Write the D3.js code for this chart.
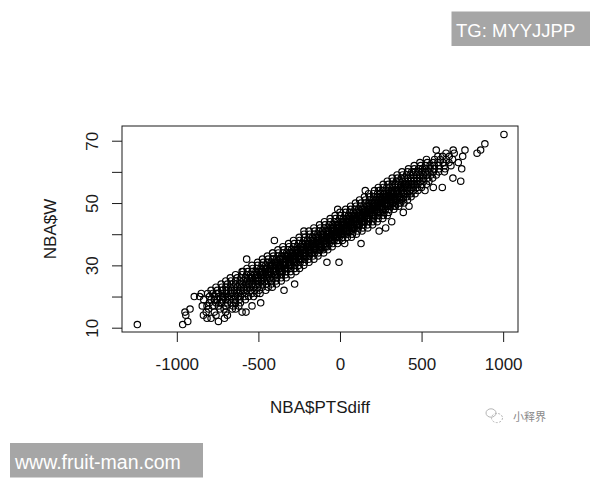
<!DOCTYPE html>
<html>
<head>
<meta charset="utf-8">
<script src="https://cdn.jsdelivr.net/npm/d3@7"></script>
<style>
  html, body { margin: 0; padding: 0; background: #fff; }
  svg { display: block; }
</style>
</head>
<body>
<div id="chart"></div>
<script>
// ---- Data: NBA$W levels and the NBA$PTSdiff values seen at each level ----
const winsLevels = [11,12,13,14,15,16,17,18,19,20,21,22,23,24,25,26,27,28,29,30,31,32,33,34,35,36,37,38,39,40,41,42,43,44,45,46,47,48,49,50,51,52,53,54,55,56,57,58,59,60,61,62,63,64,65,66,67,69,72];
const ptsDiffByWins = [
  [-1242, -964],
  [-933, -745],
  [-790, -708, -815],
  [-945, -837, -760, -690],
  [-950, -600, -576, -770, -700, -820],
  [-919, -805, -735, -660, -640, -710],
  [-844, -539, -780, -745, -700, -655, -620, -815],
  [-486, -800, -760, -725, -690, -668, -640, -610, -735],
  [-835, -790, -752, -720, -700, -675, -650, -618, -580, -770],
  [-893, -800, -770, -742, -712, -690, -665, -640, -610, -585, -560, -720, -860, -530, -625],
  [-811, -780, -745, -718, -695, -670, -648, -620, -600, -575, -540, -510, -760, -850, -490, -700],
  [-790, -752, -720, -695, -668, -648, -630, -612, -590, -570, -548, -522, -495, -455, -343],
  [-760, -725, -700, -672, -650, -628, -605, -590, -570, -552, -530, -505, -478, -440, -415],
  [-278, -728, -690, -662, -640, -615, -596, -575, -558, -540, -520, -498, -475, -452, -420, -390],
  [-700, -668, -640, -612, -590, -568, -550, -532, -515, -498, -480, -462, -440, -418, -392, -360, -505],
  [-672, -630, -604, -580, -558, -538, -518, -500, -483, -466, -450, -430, -410, -388, -360, -330, -470, -545],
  [-640, -600, -572, -548, -525, -505, -487, -470, -455, -438, -420, -402, -382, -360, -335, -300, -445, -512, -395],
  [-594, -600, -565, -538, -515, -495, -475, -458, -440, -425, -408, -390, -372, -352, -330, -302, -270, -430, -485, -360],
  [-570, -535, -508, -485, -465, -446, -428, -410, -394, -378, -360, -342, -323, -302, -278, -248, -400, -455, -335, -370],
  [-540, -505, -478, -455, -435, -416, -398, -380, -364, -348, -332, -315, -296, -276, -252, -222, -370, -425, -305, -340, -388],
  [-80, -6, -505, -470, -445, -422, -402, -383, -366, -350, -334, -318, -302, -285, -266, -244, -218, -190, -340, -395, -275, -310],
  [-572, -475, -440, -412, -390, -370, -352, -335, -318, -302, -287, -271, -255, -237, -216, -192, -160, -310, -365, -245, -280, -328],
  [-445, -408, -380, -357, -337, -319, -302, -286, -270, -255, -240, -224, -207, -188, -165, -135, -280, -330, -215, -250, -295],
  [-413, -412, -378, -350, -327, -306, -288, -271, -255, -240, -224, -208, -192, -175, -155, -132, -100, -245, -300, -185, -218, -265],
  [-380, -345, -318, -296, -276, -258, -240, -224, -208, -193, -178, -162, -145, -126, -104, -75, -215, -268, -152, -186, -232, -120],
  [-350, -312, -285, -262, -242, -224, -207, -191, -176, -161, -146, -131, -115, -97, -76, -48, -182, -235, -120, -154, -198, -88],
  [29, 129, -315, -280, -253, -230, -210, -192, -176, -160, -145, -130, -115, -100, -84, -66, -44, -15, -150, -200, -90, -122, -168],
  [-402, -285, -248, -222, -200, -180, -162, -146, -130, -115, -100, -85, -70, -54, -36, -14, 15, -118, -170, -60, -92, -138, -45],
  [-250, -215, -190, -168, -148, -130, -114, -98, -83, -68, -53, -38, -22, -4, 17, 45, -86, -140, -28, -60, -106, -12, 70],
  [-220, -185, -158, -136, -116, -99, -83, -67, -52, -37, -22, -7, 9, 27, 48, 76, -54, -108, 4, -28, -75, 20, 100],
  [-221, 240, -190, -155, -128, -106, -86, -68, -52, -36, -21, -6, 9, 24, 40, 58, 80, 108, -24, -78, 35, 2, -45, 50, 135],
  [280, -160, -122, -96, -74, -55, -38, -22, -6, 10, 25, 40, 56, 72, 90, 112, 140, 8, -46, 66, -2, -15, 82, 170],
  [-125, -92, -66, -44, -25, -8, 8, 24, 40, 55, 70, 86, 102, 120, 142, 170, 38, -15, 98, 30, 16, 112, 200],
  [317, -95, -60, -35, -13, 6, 24, 40, 56, 72, 87, 102, 118, 134, 152, 174, 202, 70, 16, 130, 62, 48, 145, 228],
  [-60, -28, -2, 20, 40, 57, 73, 89, 104, 119, 134, 150, 166, 184, 206, 234, 102, 48, 162, 94, 80, 176, 262],
  [-30, 4, 30, 52, 72, 89, 105, 121, 136, 151, 166, 182, 198, 216, 238, 266, 134, 80, 194, 126, 112, 208, 290],
  [388, 0, 35, 60, 82, 102, 120, 137, 152, 167, 182, 197, 213, 230, 248, 270, 298, 165, 110, 225, 157, 143, 240],
  [-14, 35, 66, 92, 114, 133, 150, 167, 183, 198, 213, 228, 244, 261, 280, 302, 330, 196, 140, 256, 188, 174],
  [423, 65, 98, 124, 146, 165, 182, 198, 214, 229, 244, 259, 275, 292, 311, 333, 360, 226, 172, 286, 219, 205, 340],
  [95, 128, 155, 177, 196, 213, 229, 245, 260, 275, 290, 306, 323, 342, 364, 392, 258, 202, 318, 250, 236, 372],
  [120, 155, 180, 202, 221, 238, 254, 269, 284, 299, 314, 330, 347, 366, 388, 414, 282, 226, 342, 274, 260],
  [150, 182, 206, 227, 245, 262, 278, 293, 308, 322, 337, 353, 370, 389, 410, 436, 305, 250, 365, 297],
  [175, 206, 230, 250, 268, 285, 300, 316, 331, 346, 361, 377, 394, 413, 435, 460, 328, 273, 388],
  [155, 521, 212, 240, 262, 282, 300, 316, 331, 346, 361, 376, 392, 409, 428, 450, 478, 352, 296],
  [572, 627, 235, 265, 287, 306, 323, 339, 355, 370, 385, 400, 416, 433, 452, 474, 500, 376],
  [265, 296, 320, 340, 358, 375, 391, 407, 423, 440, 458, 478, 502, 530, 400],
  [740, 290, 322, 346, 366, 384, 401, 418, 435, 452, 470, 490, 514, 545],
  [692, 320, 352, 376, 396, 415, 433, 451, 470, 490, 512, 538, 568],
  [350, 384, 408, 430, 450, 470, 490, 510, 532, 558, 590],
  [380, 414, 440, 462, 483, 503, 524, 546, 572, 605, 640],
  [746, 420, 455, 482, 505, 528, 552, 578, 608, 645],
  [455, 495, 525, 552, 578, 605, 640, 680],
  [725, 490, 535, 570, 600, 632, 668],
  [530, 580, 615, 650, 690],
  [629, 752, 600, 670],
  [840, 650, 700],
  [590, 694, 766, 862],
  [888],
  [1005]
];
const xTicks = [-1000, -500, 0, 500, 1000];
const xTickLabels = ["-1000", "-500", "0", "500", "1000"];
const yTicks = [10, 20, 30, 40, 50, 60, 70];
const yTickLabels = [10, 30, 50, 70];
const xTitle = "NBA$PTSdiff";
const yTitle = "NBA$W";

// ---- Build point table ----
const points = [];
winsLevels.forEach((w, i) => ptsDiffByWins[i].forEach(p => points.push({ x: p, y: w })));

// ---- Layout ----
const W = 600, H = 480;
const box = { left: 122, right: 518, top: 126, bottom: 332 };
const font = "'Liberation Sans', Arial, Helvetica, sans-serif";
const ink = "#1a1a1a";

const svg = d3.select("#chart").append("svg").attr("width", W).attr("height", H);
svg.append("rect").attr("width", W).attr("height", H).attr("fill", "#fff");

const x = d3.scaleLinear().domain([-1336, 1091]).range([box.left, box.right]);
const y = d3.scaleLinear().domain([8.62, 74.72]).range([box.bottom, box.top]);

// points
svg.append("g").selectAll("circle").data(points).join("circle")
  .attr("cx", d => x(d.x)).attr("cy", d => y(d.y)).attr("r", 3.2)
  .attr("fill", "none").attr("stroke", "#000").attr("stroke-width", 1.15);

// box
svg.append("rect")
  .attr("x", box.left).attr("y", box.top)
  .attr("width", box.right - box.left).attr("height", box.bottom - box.top)
  .attr("fill", "none").attr("stroke", ink).attr("stroke-width", 1);

// x axis
const xAxis = d3.axisBottom(x).tickValues(xTicks).tickSize(10)
  .tickFormat((d, i) => xTickLabels[i]);
const gx = svg.append("g").attr("transform", `translate(0,${box.bottom})`).call(xAxis);
gx.select(".domain").remove();
gx.selectAll("line").attr("stroke", ink);
gx.selectAll("text").attr("font-family", font).attr("font-size", 17).attr("fill", ink)
  .attr("dy", null).attr("y", 38);

// y axis
const yAxis = d3.axisLeft(y).tickValues(yTicks).tickSize(10)
  .tickFormat(d => yTickLabels.includes(d) ? String(d) : "");
const gy = svg.append("g").attr("transform", `translate(${box.left},0)`).call(yAxis);
gy.select(".domain").remove();
gy.selectAll("line").attr("stroke", ink);
gy.selectAll("text").attr("font-family", font).attr("font-size", 17).attr("fill", ink)
  .attr("x", null).attr("dy", null).attr("text-anchor", "middle")
  .attr("transform", "translate(-23.7,0) rotate(-90)");

// titles
svg.append("text").attr("x", (box.left + box.right) / 2).attr("y", 413)
  .attr("text-anchor", "middle").attr("font-family", font).attr("font-size", 17)
  .attr("fill", ink).text(xTitle);
svg.append("text").attr("transform", `translate(56,${(box.top + box.bottom) / 2}) rotate(-90)`)
  .attr("text-anchor", "middle").attr("font-family", font).attr("font-size", 17)
  .attr("fill", ink).text(yTitle);

// watermarks
svg.append("rect").attr("x", 451.5).attr("y", 11.5).attr("width", 138.5).attr("height", 34.5).attr("fill", "#a6a6a6");
svg.append("text").attr("x", 456).attr("y", 37).attr("font-family", font).attr("font-size", 18.5)
  .attr("fill", "#fff").text("TG: MYYJJPP");
svg.append("rect").attr("x", 10).attr("y", 443).attr("width", 193).attr("height", 34.5).attr("fill", "#a6a6a6");
svg.append("text").attr("x", 15).attr("y", 468.5).attr("font-family", font).attr("font-size", 19.5)
  .attr("fill", "#fff").text("www.fruit-man.com");

// faint WeChat-style mark
const wm = svg.append("g").attr("stroke", "#b5b5b5").attr("fill", "none").attr("stroke-width", 1);
wm.append("ellipse").attr("cx", 491).attr("cy", 413).attr("rx", 5).attr("ry", 4.2);
wm.append("ellipse").attr("cx", 497).attr("cy", 418).attr("rx", 5.5).attr("ry", 4.6).attr("stroke-dasharray", "2,1.5");
svg.append("text").attr("x", 513).attr("y", 421).attr("font-family", "'Noto Sans CJK SC', sans-serif")
  .attr("font-size", 11).attr("fill", "#8a8a8a").text("小释界");
</script>
</body>
</html>
